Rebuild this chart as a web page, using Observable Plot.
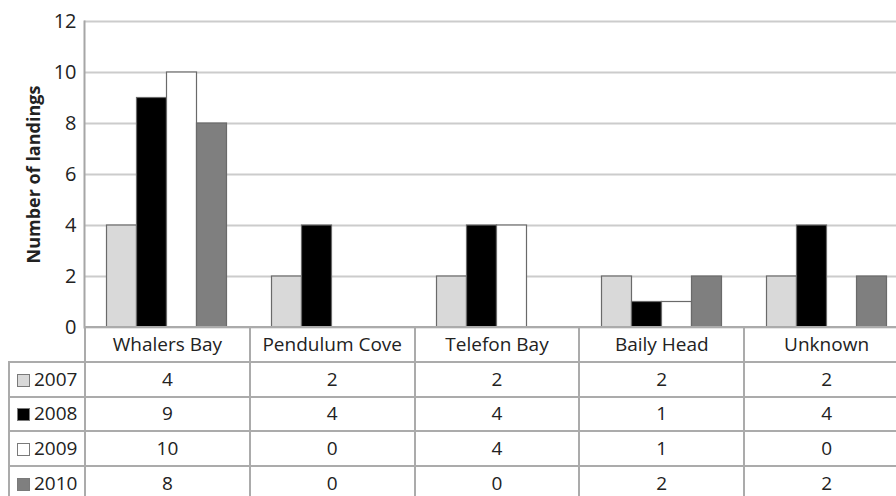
<!DOCTYPE html>
<html>
<head>
<meta charset="utf-8">
<script src="https://cdn.jsdelivr.net/npm/d3@7"></script>
<script src="https://cdn.jsdelivr.net/npm/@observablehq/plot@0.6"></script>
<style>
  html, body { margin: 0; padding: 0; background: #fff; overflow: hidden; }
  #wrap { position: relative; width: 910px; height: 496px; font-family: "Open Sans", sans-serif; color: #222; }
  #chart svg { display: block; overflow: visible; }
  #chart g[aria-label="y-axis tick label"] { font-size: 20px !important; }
  #chart g[aria-label="y-axis tick label"] text { font-size: 20px !important; }
  #chart g[aria-label="y-axis label"] text { font-weight: bold; font-size: 18px !important; }
  table { position: absolute; left: 8px; top: 326px; border-collapse: collapse; table-layout: fixed; font-size: 19px; color: #222; }
  td { border: 2px solid #ababab; text-align: center; padding: 0; height: 32.6px; line-height: 1; }
  tr.head td { height: 33px; }
  td.blank { border-left: none; border-top: none; border-bottom-color: #ababab; }
  td.lab { text-align: left; padding-left: 7px; white-space: nowrap; }
  .sw { display: inline-block; width: 11px; height: 11px; border: 1px solid #7a7a7a; margin-right: 4px; vertical-align: -1px; }
</style>
</head>
<body>
<div id="wrap">
  <div id="chart"></div>
  <table id="tbl"></table>
</div>
<script>
const sites = ["Whalers Bay", "Pendulum Cove", "Telefon Bay", "Baily Head", "Unknown"];
const years = ["2007", "2008", "2009", "2010"];
const v2007 = [4, 2, 2, 2, 2];
const v2008 = [9, 4, 4, 1, 4];
const v2009 = [10, 0, 4, 1, 0];
const v2010 = [8, 0, 0, 2, 2];
const yTicks = [0, 2, 4, 6, 8, 10, 12];
const fills = ["#d9d9d9", "#000000", "#ffffff", "#7f7f7f"];

const series = [v2007, v2008, v2009, v2010];
const data = [];
years.forEach((yr, j) => sites.forEach((s, i) => data.push({site: s, year: yr, value: series[j][i]})));

const chart = Plot.plot({
  width: 910,
  height: 328,
  marginLeft: 84,
  marginRight: 1,
  marginTop: 21,
  marginBottom: 1,
  style: {fontFamily: "Open Sans, sans-serif", fontSize: "19px", color: "#222", background: "transparent"},
  fx: {domain: sites, padding: 0, axis: null},
  x: {domain: years, paddingInner: 0, paddingOuter: 0.75, axis: null, round: false},
  y: {domain: [0, 12], ticks: yTicks, tickSize: 0, tickPadding: 8, label: "Number of landings", labelAnchor: "center", labelOffset: 57, labelArrow: "none"},
  color: {domain: years, range: fills},
  marks: [
    Plot.ruleY(yTicks, {stroke: "#cccccc", strokeWidth: 2}),
    Plot.barY(data.filter(d => d.value > 0), {fx: "site", x: "year", y: "value", fill: "year", stroke: "#6a6a6a", strokeWidth: 1.2}),
    Plot.frame({anchor: "left", facet: "super", stroke: "#a6a6a6", strokeWidth: 2})
  ]
});
document.getElementById("chart").appendChild(chart);

// data table below the chart
const tbl = document.getElementById("tbl");
const cg = document.createElement("colgroup");
[76, ...sites.map(() => 165)].forEach(w => { const c = document.createElement("col"); c.style.width = w + "px"; cg.appendChild(c); });
tbl.appendChild(cg);
const head = document.createElement("tr");
head.className = "head";
const blank = document.createElement("td"); blank.className = "blank"; head.appendChild(blank);
sites.forEach(s => { const td = document.createElement("td"); td.textContent = s; head.appendChild(td); });
tbl.appendChild(head);
years.forEach((yr, j) => {
  const tr = document.createElement("tr");
  const lab = document.createElement("td"); lab.className = "lab";
  const sw = document.createElement("span"); sw.className = "sw"; sw.style.background = fills[j];
  lab.appendChild(sw); lab.appendChild(document.createTextNode(yr));
  tr.appendChild(lab);
  series[j].forEach(v => { const td = document.createElement("td"); td.textContent = v; tr.appendChild(td); });
  tbl.appendChild(tr);
});
</script>
</body>
</html>
